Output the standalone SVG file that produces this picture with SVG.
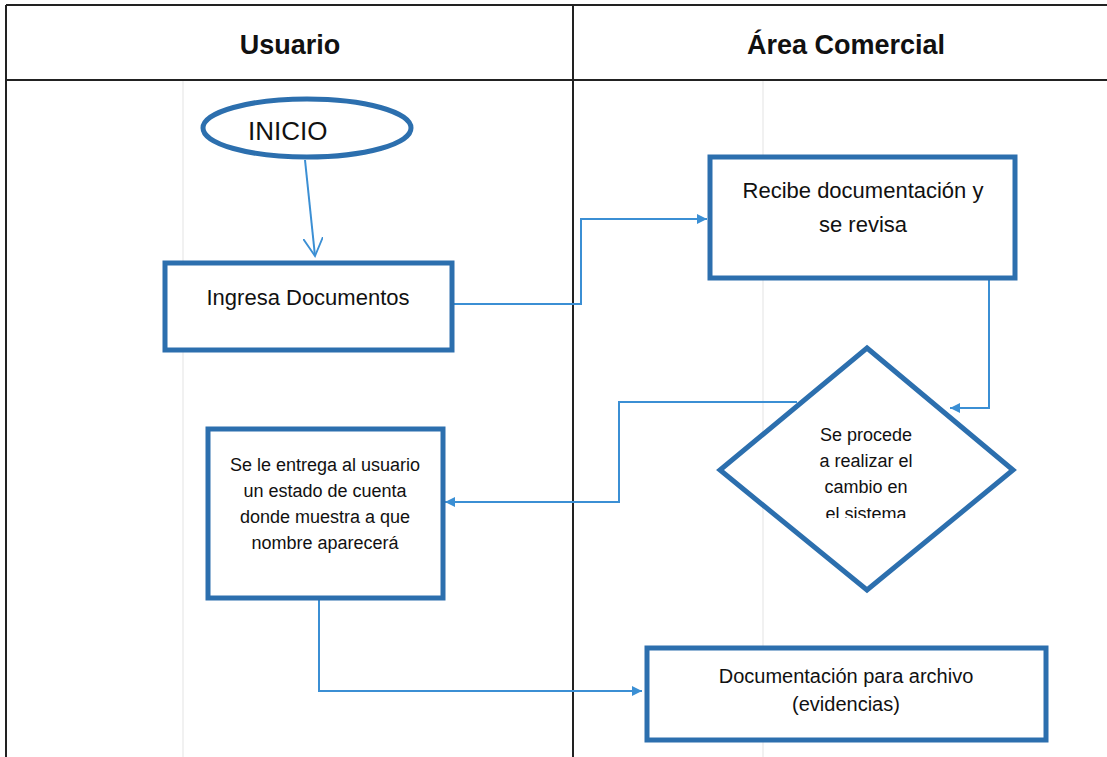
<svg xmlns="http://www.w3.org/2000/svg" width="1107" height="757" viewBox="0 0 1107 757">
<defs>
<style>
.lane{stroke:#222;stroke-width:2;fill:none}
.guide{stroke:#ececec;stroke-width:1.5;fill:none}
.box{fill:#fff;stroke:#2c6fae;stroke-width:5}
.conn{fill:none;stroke:#3b8fd4;stroke-width:2}
.hdr{font-family:"Liberation Sans",Arial,sans-serif;font-weight:bold;font-size:27px;fill:#111;text-anchor:middle}
.t{font-family:"Liberation Sans",Arial,sans-serif;fill:#111;text-anchor:middle}
</style>
<marker id="tri" viewBox="0 0 10 10" refX="10" refY="5" markerWidth="11" markerHeight="10" orient="auto" markerUnits="userSpaceOnUse">
<path d="M0,0 L10,5 L0,10 z" fill="#3b8fd4"/>
</marker>
<marker id="open" viewBox="0 0 12 12" refX="11" refY="6" markerWidth="20" markerHeight="20" orient="auto" markerUnits="userSpaceOnUse">
<path d="M0,0 L11,6 L0,12" fill="none" stroke="#3b8fd4" stroke-width="1.1"/>
</marker>
<clipPath id="diaclip"><rect x="700" y="340" width="330" height="178"/></clipPath>
</defs>
<rect width="1107" height="757" fill="#fff"/>
<g id="lanes">
<line class="guide" x1="183" y1="80" x2="183" y2="757"/>
<line class="guide" x1="763" y1="80" x2="763" y2="757"/>
<line class="lane" x1="6" y1="5" x2="1107" y2="5"/>
<line class="lane" x1="6" y1="80" x2="1107" y2="80"/>
<line class="lane" x1="6" y1="5" x2="6" y2="757"/>
<line class="lane" x1="573" y1="5" x2="573" y2="757"/>
<text class="hdr" x="290" y="54">Usuario</text>
<text class="hdr" x="846" y="54">Área Comercial</text>
</g>
<g id="connectors">
<line class="conn" x1="305" y1="160" x2="315" y2="256" marker-end="url(#open)"/>
<polyline class="conn" points="452,304 581,304 581,219 707,219" marker-end="url(#tri)"/>
<polyline class="conn" points="989,280 989,408 950,408" marker-end="url(#tri)"/>
<polyline class="conn" points="797,402 619,402 619,502 445,502" marker-end="url(#tri)"/>
<polyline class="conn" points="319,600 319,691 642,691" marker-end="url(#tri)"/>
</g>
<g id="inicio">
<ellipse class="box" cx="307" cy="128" rx="104" ry="29"/>
<text x="248" y="140" font-family="Liberation Sans,Arial,sans-serif" font-size="26" fill="#111">INICIO</text>
</g>
<g id="ingresa">
<rect class="box" x="165" y="263" width="287" height="87"/>
<text class="t" x="308" y="305" font-size="22">Ingresa Documentos</text>
</g>
<g id="recibe">
<rect class="box" x="710" y="157" width="305" height="121"/>
<text class="t" x="863" y="198" font-size="22">Recibe documentación y</text>
<text class="t" x="863" y="232" font-size="22">se revisa</text>
</g>
<g id="decision">
<polygon class="box" points="867,348 1013,470 867,590 720,470"/>
<g clip-path="url(#diaclip)">
<text class="t" x="866" y="441" font-size="18">Se procede</text>
<text class="t" x="866" y="467" font-size="18">a realizar el</text>
<text class="t" x="866" y="493" font-size="18">cambio en</text>
<text class="t" x="866" y="520" font-size="18">el sistema</text>
</g>
</g>
<g id="entrega">
<rect class="box" x="208" y="429" width="235" height="169"/>
<text class="t" x="325" y="471" font-size="18">Se le entrega al usuario</text>
<text class="t" x="325" y="497" font-size="18">un estado de cuenta</text>
<text class="t" x="325" y="523" font-size="18">donde muestra a que</text>
<text class="t" x="325" y="549" font-size="18">nombre aparecerá</text>
</g>
<g id="archivo">
<rect class="box" x="647" y="648" width="399" height="92"/>
<text class="t" x="846" y="683" font-size="20">Documentación para archivo</text>
<text class="t" x="846" y="711" font-size="20">(evidencias)</text>
</g>
</svg>
